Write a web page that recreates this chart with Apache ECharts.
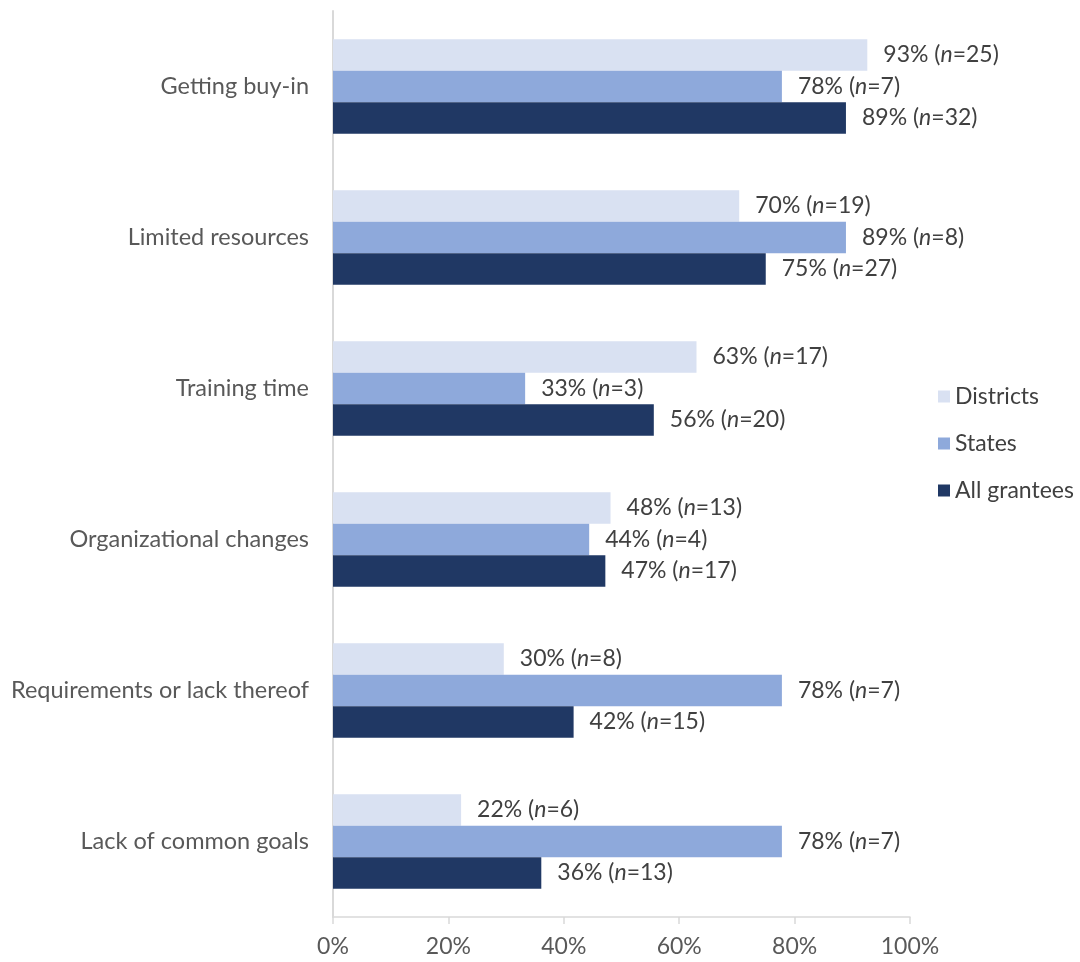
<!DOCTYPE html>
<html><head><meta charset="utf-8">
<script src="https://cdn.jsdelivr.net/npm/echarts@6/dist/echarts.min.js"></script>
<style>html,body{margin:0;padding:0;background:#fff}#c{width:1080px;height:962px}</style>
</head><body><div id="c"></div>
<script>
const categories = ["Getting buy-in", "Limited resources", "Training time", "Organizational changes", "Requirements or lack thereof", "Lack of common goals"];
const seriesNames = ["Districts", "States", "All grantees"];
const districts = [92.6, 70.4, 63.0, 48.1, 29.6, 22.2];
const districtsN = [25, 19, 17, 13, 8, 6];
const states = [77.8, 88.9, 33.3, 44.4, 77.8, 77.8];
const statesN = [7, 8, 3, 4, 7, 7];
const allGrantees = [88.9, 75.0, 55.6, 47.2, 41.7, 36.1];
const allGranteesN = [32, 27, 20, 17, 15, 13];
const colors = ["#D9E1F2", "#8EA9DB", "#203864"];
const FONT = "Lato";

const chart = echarts.init(document.getElementById('c'));
function mk(name, vals, ns, color) {
  return {
    name, type: 'bar', data: vals, barGap: '0%', barCategoryGap: '37.4%',
    itemStyle: { color },
    label: {
      show: true, position: 'right', distance: 16,
      formatter: p => `{a|${Math.round(p.value)}% (}{i|n}{a|=${ns[p.dataIndex]})}`,
      rich: {
        a: { fontFamily: FONT, fontSize: 23, color: '#404040' },
        i: { fontFamily: FONT, fontSize: 23, color: '#404040', fontStyle: 'italic' }
      }
    }
  };
}
chart.setOption({
  animation: false,
  color: colors,
  grid: { left: 333, right: 170, top: 11, bottom: 45 },
  legend: {
    orient: 'vertical', left: 933, top: 380, itemWidth: 12, itemHeight: 12, itemGap: 24,
    icon: 'rect',
    textStyle: { fontFamily: FONT, fontSize: 23, color: '#404040' },
    data: seriesNames
  },
  xAxis: {
    type: 'value', min: 0, max: 100, interval: 20,
    axisLine: { show: true, lineStyle: { color: '#D9D9D9', width: 1.5 } },
    axisTick: { show: true, length: 7, lineStyle: { color: '#D9D9D9', width: 1.5 } },
    splitLine: { show: false },
    axisLabel: { formatter: '{value}%', fontFamily: FONT, fontSize: 23, color: '#595959', margin: 18 }
  },
  yAxis: {
    type: 'category', data: categories, inverse: true,
    axisLine: { show: true, lineStyle: { color: '#D9D9D9', width: 2 } },
    axisTick: { show: false },
    axisLabel: { fontFamily: FONT, fontSize: 23.5, color: '#595959', margin: 24 }
  },
  series: [
    mk(seriesNames[0], districts, districtsN, colors[0]),
    mk(seriesNames[1], states, statesN, colors[1]),
    mk(seriesNames[2], allGrantees, allGranteesN, colors[2])
  ]
});
</script></body></html>
